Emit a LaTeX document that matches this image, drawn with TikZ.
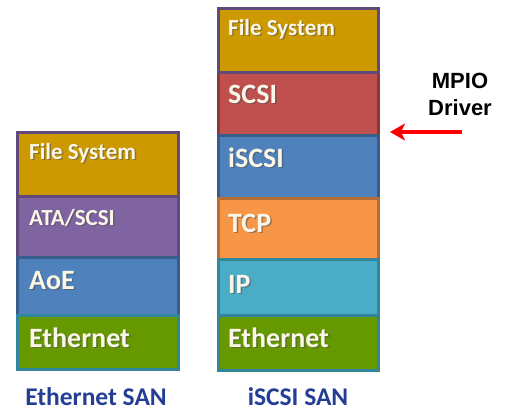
\documentclass[tikz,border=0pt]{standalone}
\usepackage{fontspec}
\setmainfont{Carlito}
\newfontfamily\arialb{Liberation Sans}[BoldFont={* Bold}]
\usetikzlibrary{arrows.meta}
\definecolor{fsfill}{RGB}{204,153,0}
\definecolor{fsline}{RGB}{96,74,123}
\definecolor{atafill}{RGB}{128,100,162}
\definecolor{ataline}{RGB}{96,74,123}
\definecolor{bluefill}{RGB}{79,129,189}
\definecolor{blueline}{RGB}{56,93,138}
\definecolor{ethfill}{RGB}{102,153,0}
\definecolor{ethline}{RGB}{49,133,156}
\definecolor{redfill}{RGB}{192,80,77}
\definecolor{redline}{RGB}{140,56,54}
\definecolor{tcpfill}{RGB}{247,150,70}
\definecolor{tcpline}{RGB}{182,108,50}
\definecolor{ipfill}{RGB}{75,172,198}
\definecolor{ipline}{RGB}{49,133,156}
\definecolor{txt}{RGB}{250,246,232}
\definecolor{sanblue}{RGB}{36,62,150}
\tikzset{
  layer/.style={rectangle, line width=3pt, inner sep=0pt, outer sep=0pt},
  lbl/.style={anchor=base west, inner sep=0pt, text=txt, font=\bfseries\fontsize{28}{30}\selectfont},
  lblsm/.style={lbl, font=\bfseries\fontsize{23}{25}\selectfont},
  sanlbl/.style={anchor=base, inner sep=0pt, text=sanblue, font=\bfseries\fontsize{25.5}{28}\selectfont},
  mpiolbl/.style={anchor=base, inner sep=0pt, font=\arialb\bfseries\fontsize{22}{24}\selectfont},
}
\newcommand{\layertext}[4]{% style, x, y, text
  \node[#1, text=black!70, opacity=0.5] at (#2+1.5,#3+1.5) {#4};
  \node[#1] at (#2,#3) {#4};
}
\begin{document}
\begin{tikzpicture}[x=1pt,y=-1pt]
\useasboundingbox (0,0) rectangle (508,410);
% Left stack (Ethernet SAN)
\node[layer, fill=fsfill, draw=fsline, minimum width=161, minimum height=64] (lfs) at (98,164) {};
\node[layer, fill=atafill, draw=ataline, minimum width=161, minimum height=61] (lata) at (98,226.5) {};
\node[layer, fill=bluefill, draw=blueline, minimum width=161, minimum height=58] (laoe) at (98,286) {};
\node[layer, fill=ethfill, draw=ethline, minimum width=161, minimum height=54] (leth) at (98,342) {};
\layertext{lblsm}{29}{159}{File System}
\layertext{lblsm}{29}{225}{ATA/SCSI}
\layertext{lbl}{29}{289}{AoE}
\layertext{lbl}{29}{347}{Ethernet}
% Right stack (iSCSI SAN)
\node[layer, fill=fsfill, draw=fsline, minimum width=160, minimum height=64] (rfs) at (298,40) {};
\node[layer, fill=redfill, draw=redline, minimum width=160, minimum height=63] (rscsi) at (298,103.5) {};
\node[layer, fill=bluefill, draw=blueline, minimum width=160, minimum height=63] (riscsi) at (298,166.5) {};
\node[layer, fill=tcpfill, draw=tcpline, minimum width=160, minimum height=61] (rtcp) at (298,228.5) {};
\node[layer, fill=ipfill, draw=ipline, minimum width=160, minimum height=56] (rip) at (298,287) {};
\node[layer, fill=ethfill, draw=ethline, minimum width=160, minimum height=55] (reth) at (298,342.5) {};
\draw[layer, draw=fsline] (rfs.north west) rectangle (rfs.south east);
\layertext{lblsm}{228}{35}{File System}
\layertext{lbl}{228}{103}{SCSI}
\layertext{lbl}{228}{167}{iSCSI}
\layertext{lbl}{228}{232}{TCP}
\layertext{lbl}{228}{293}{IP}
\layertext{lbl}{228}{347}{Ethernet}
% Bottom labels
\node[sanlbl] (lsan) at (96,405) {Ethernet SAN};
\node[sanlbl] (rsan) at (298,405) {iSCSI SAN};
% MPIO Driver
\node[mpiolbl] (mpio1) at (460,88) {MPIO};
\node[mpiolbl] (mpio2) at (460,115) {Driver};
\coordinate (arrS) at (462,132);
\coordinate (arrE) at (390,132);
\draw[red, line width=4pt, -{Stealth[length=15pt,width=17pt,inset=4pt]}] (arrS) -- (arrE);
\end{tikzpicture}
\end{document}
